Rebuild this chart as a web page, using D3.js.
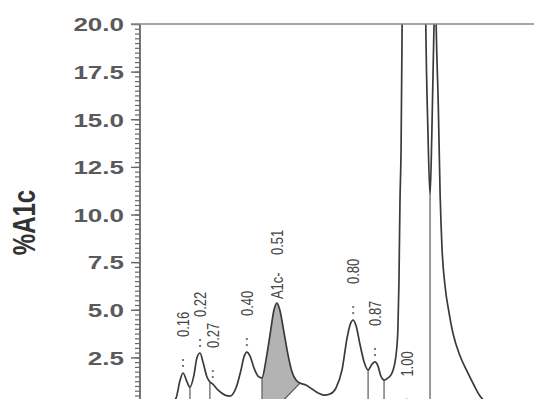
<!DOCTYPE html>
<html>
<head>
<meta charset="utf-8">
<script src="https://cdn.jsdelivr.net/npm/d3@7"></script>
<style>
  body { margin: 0; background: #fff; }
  svg { display: block; }
</style>
</head>
<body>
<script>
// chromatogram trace: [retention time (min), %A1c]
const trace = [
  [0.000, 0.05], [0.080, 0.08], [0.120, 0.15], [0.134, 0.37], [0.149, 1.31],
  [0.160, 1.68], [0.175, 1.21], [0.186, 0.94], [0.201, 1.57], [0.212, 2.47],
  [0.224, 2.73], [0.235, 2.26], [0.250, 1.47], [0.261, 1.21], [0.272, 1.10],
  [0.291, 0.79], [0.318, 0.52], [0.337, 0.47], [0.359, 0.89], [0.378, 1.84],
  [0.389, 2.52], [0.400, 2.78], [0.412, 2.57], [0.427, 1.94], [0.442, 1.52],
  [0.457, 1.42], [0.472, 2.36], [0.487, 3.67], [0.502, 4.99], [0.513, 5.35],
  [0.524, 4.99], [0.540, 3.78], [0.555, 2.62], [0.570, 1.73], [0.585, 1.31],
  [0.600, 1.15], [0.622, 1.05], [0.645, 0.84], [0.668, 0.63], [0.690, 0.52],
  [0.713, 0.58], [0.735, 0.89], [0.758, 1.84], [0.777, 3.52], [0.788, 4.20],
  [0.800, 4.46], [0.811, 4.15], [0.826, 3.15], [0.841, 2.26], [0.856, 1.84],
  [0.871, 2.15], [0.882, 2.26], [0.893, 2.05], [0.904, 1.52], [0.916, 1.31],
  [0.931, 1.42], [0.946, 1.68], [0.961, 2.62], [0.968, 3.94], [0.972, 6.40],
  [0.976, 10.76], [0.980, 13.39], [0.984, 20.0], [0.995, 45.0], [1.028, 70.0],
  [1.062, 40.0], [1.073, 20.0], [1.081, 14.4], [1.089, 11.0], [1.096, 14.4],
  [1.104, 20.0], [1.108, 24.0], [1.112, 20.0], [1.120, 15.75], [1.127, 11.0],
  [1.134, 8.24], [1.145, 6.30], [1.160, 4.88], [1.175, 3.78], [1.202, 2.57],
  [1.228, 1.78], [1.254, 1.05], [1.277, 0.47], [1.315, 0.10], [1.400, 0.03],
  [1.480, 0.02]
];

const yTicks = [0, 2.5, 5, 7.5, 10, 12.5, 15, 17.5, 20];
const yTickLabels = ["0.0", "2.5", "5.0", "7.5", "10.0", "12.5", "15.0", "17.5", "20.0"];

const peakLabels = ["0.16", "0.22", "0.27", "0.40", "0.51", "0.80", "0.87", "1.00"];
const peakNames = ["", "", "", "", "A1c-", "", "", ""];
const peakApex = [0.160, 0.224, 0.272, 0.400, 0.513, 0.800, 0.882, 1.000];
const peakHeight = [1.68, 2.73, 1.10, 2.78, 5.35, 4.46, 2.26, -0.4];

const dropTimes = [0.186, 0.261, 0.457, 0.856, 0.916, 1.089];
const a1cStart = 0.457, a1cEnd = 0.600, a1cFoot = 0.520;

const W = 534, H = 399;
const x = d3.scaleLinear().domain([0, 1.48]).range([140.5, 534]);
const y = d3.scaleLinear().domain([0, 20]).range([405, 24]);

const svg = d3.select("body").append("svg")
  .attr("width", W).attr("height", H)
  .style("font-family", "Arial, 'Liberation Sans', sans-serif");

svg.append("defs").append("clipPath").attr("id", "plot")
  .append("rect").attr("x", 140).attr("y", 24).attr("width", W - 140).attr("height", 400);

const valueAt = t => {
  const i = d3.bisector(d => d[0]).left(trace, t);
  if (i <= 0) return trace[0][1];
  const a = trace[i - 1], b = trace[i];
  return a[1] + (b[1] - a[1]) * (t - a[0]) / (b[0] - a[0]);
};

const plot = svg.append("g").attr("clip-path", "url(#plot)");

// shaded A1c peak, skimmed at its tail
const vEnd = valueAt(a1cEnd);
const skim = t => t <= a1cFoot ? 0 : (t - a1cFoot) / (a1cEnd - a1cFoot) * vEnd;
plot.append("path")
  .datum(trace.filter(d => d[0] >= a1cStart && d[0] <= a1cEnd))
  .attr("fill", "#b3b3b3")
  .attr("d", d3.area()
    .x(d => x(d[0]))
    .y0(d => y(skim(d[0])))
    .y1(d => y(d[1]))
    .curve(d3.curveMonotoneX));

plot.append("line")
  .attr("x1", x(a1cFoot)).attr("y1", y(0))
  .attr("x2", x(a1cEnd)).attr("y2", y(vEnd))
  .attr("stroke", "#555").attr("stroke-width", 1.2);

// peak boundary drop lines
plot.selectAll("line.drop")
  .data(dropTimes)
  .join("line")
  .attr("class", "drop")
  .attr("x1", d => x(d)).attr("x2", d => x(d))
  .attr("y1", d => y(valueAt(d))).attr("y2", y(0))
  .attr("stroke", "#666").attr("stroke-width", 1.3);

plot.append("path")
  .datum(trace)
  .attr("fill", "none")
  .attr("stroke", "#3a3a3a")
  .attr("stroke-width", 1.7)
  .attr("stroke-linejoin", "round")
  .attr("d", d3.line()
    .x(d => x(d[0]))
    .y(d => y(d[1]))
    .curve(d3.curveMonotoneX));

// axis
const minor = d3.range(0, 20.01, 0.25);
svg.append("g").attr("transform", "translate(140,0)")
  .call(d3.axisLeft(y).tickValues(minor).tickSize(5).tickFormat(""))
  .call(g => g.select(".domain").remove())
  .call(g => g.selectAll("line").attr("stroke", "#666").attr("stroke-width", 1.2));

const major = svg.append("g").attr("transform", "translate(140,0)")
  .call(d3.axisLeft(y).tickValues(yTicks).tickSize(9)
    .tickFormat((d, i) => yTickLabels[i]))
  .call(g => g.select(".domain").remove())
  .call(g => g.selectAll("line").attr("stroke", "#666").attr("stroke-width", 1.4));

major.selectAll("text")
  .attr("x", 0)
  .attr("dy", "0.36em")
  .attr("transform", "translate(-16,0) scale(1.37,1)")
  .attr("font-size", 19)
  .attr("font-weight", "bold")
  .attr("fill", "#5a5a5a");

svg.append("line")
  .attr("x1", 140).attr("x2", 140).attr("y1", y(20)).attr("y2", H + 10)
  .attr("stroke", "#666").attr("stroke-width", 1.8);

svg.append("line")
  .attr("x1", 131).attr("x2", W).attr("y1", y(20)).attr("y2", y(20))
  .attr("stroke", "#888").attr("stroke-width", 1.5);

svg.append("text")
  .attr("transform", `translate(24,${(y(20) + y(0)) / 2 + 8}) scale(1.3,1) rotate(-90)`)
  .attr("text-anchor", "middle")
  .attr("dominant-baseline", "central")
  .attr("font-size", 24)
  .attr("font-weight", "bold")
  .attr("fill", "#333")
  .text("%A1c");

// peak annotations
const peaks = peakLabels.map((label, i) => ({
  label, name: peakNames[i], t: peakApex[i], v: peakHeight[i]
}));

const ann = svg.append("g").attr("fill", "#444").attr("font-size", 13);

ann.selectAll("text.time")
  .data(peaks)
  .join("text")
  .attr("class", "time")
  .attr("dominant-baseline", "central")
  .attr("transform", d => `translate(${x(d.t)},${y(d.v) - (d.name ? 48 : 36)}) scale(1.3,1) rotate(-90)`)
  .text(d => d.label);

ann.selectAll("text.name")
  .data(peaks.filter(d => d.name))
  .join("text")
  .attr("class", "name")
  .attr("dominant-baseline", "central")
  .attr("transform", d => `translate(${x(d.t)},${y(d.v) - 4}) scale(1.3,1) rotate(-90)`)
  .text(d => d.name);

ann.selectAll("g.dots")
  .data(peaks.filter(d => !d.name))
  .join("g")
  .attr("class", "dots")
  .selectAll("rect")
  .data(d => [7, 13].map(o => ({ cx: x(d.t), cy: y(d.v) - o })))
  .join("rect")
  .attr("x", d => d.cx - 1).attr("y", d => d.cy - 1)
  .attr("width", 2).attr("height", 2)
  .attr("fill", "#777");
</script>
</body>
</html>
